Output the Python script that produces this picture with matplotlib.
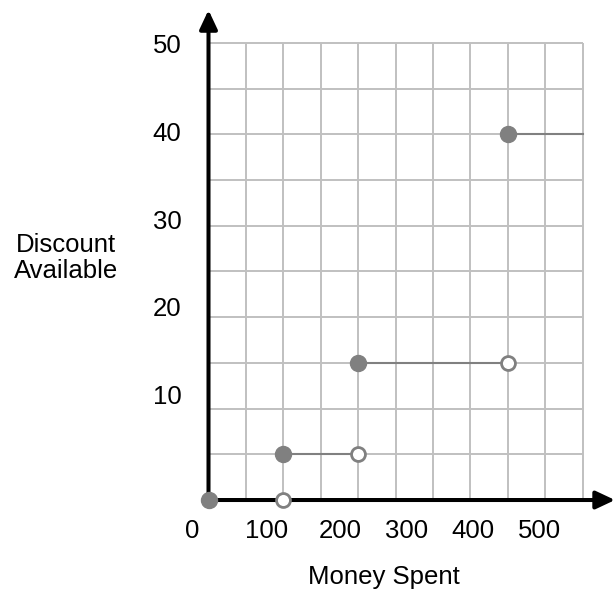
import matplotlib.pyplot as plt
from matplotlib.patches import FancyArrowPatch

plt.rcParams['font.family'] = ['Liberation Sans', 'DejaVu Sans']

# step function: discount by money spent
seg_start = [0, 100, 200, 400]
seg_end = [100, 200, 400, 500]
discount = [0, 5, 15, 40]
closed_end = [False, False, False, None]  # None -> no end marker

x_labels = ['0', '100', '200', '300', '400', '500']
x_label_pos = [-21.4, 77.8, 175.7, 264.8, 353.8, 441.6]
y_labels = ['50', '40', '30', '20', '10']
y_label_pos = [49.7, 40.0, 30.4, 20.9, 11.3]

grid_x = list(range(0, 501, 50))
grid_y = list(range(0, 51, 5))

fig = plt.figure(figsize=(6.16, 5.96), dpi=100)
ax = fig.add_axes([0, 0, 1, 1])
ax.set_xlim(-278.6, 544.5)
ax.set_ylim(-10.5, 54.7)
ax.axis('off')

grey_grid = '#c0c0c0'
pt = '#808080'

# grid
ax.vlines(grid_x[1:], 0, 50, color=grey_grid, lw=1.4, zorder=1)
ax.hlines(grid_y[1:], 0, 500, color=grey_grid, lw=1.4, zorder=1)

# step segments
for x0, x1, d in zip(seg_start, seg_end, discount):
    ax.plot([x0, x1], [d, d], color=pt, lw=1.5, zorder=2)

# axes with arrows
for start, end in [((0, -0.2), (0, 53.6)), ((-1, 0), (543.2, 0))]:
    ax.add_patch(FancyArrowPatch(start, end, arrowstyle='-|>,head_length=11.5,head_width=5.4',
                                 mutation_scale=1, shrinkA=0, shrinkB=0,
                                 color='black', lw=2.9, zorder=3))

# markers
ax.plot(seg_start, discount, 'o', ms=11.5, color=pt, zorder=5)
for x1, d, c in zip(seg_end, discount, closed_end):
    if c is False:
        ax.plot(x1, d, 'o', ms=10, mfc='white', mec=pt, mew=2, zorder=5)

# labels
for lab, xp in zip(x_labels, x_label_pos):
    ax.text(xp, -3.4, lab, ha='center', va='center', fontsize=18.5)
for lab, yp in zip(y_labels, y_label_pos):
    ax.text(-55.5, yp, lab, ha='center', va='center', fontsize=18.5)

ax.text(234.5, -8.4, 'Money Spent', ha='center', va='center', fontsize=18.5)
ax.text(-190, 26.5, 'Discount\nAvailable', ha='center', va='center', fontsize=18.5,
        linespacing=1.1)

plt.savefig('out.png', dpi=100)
